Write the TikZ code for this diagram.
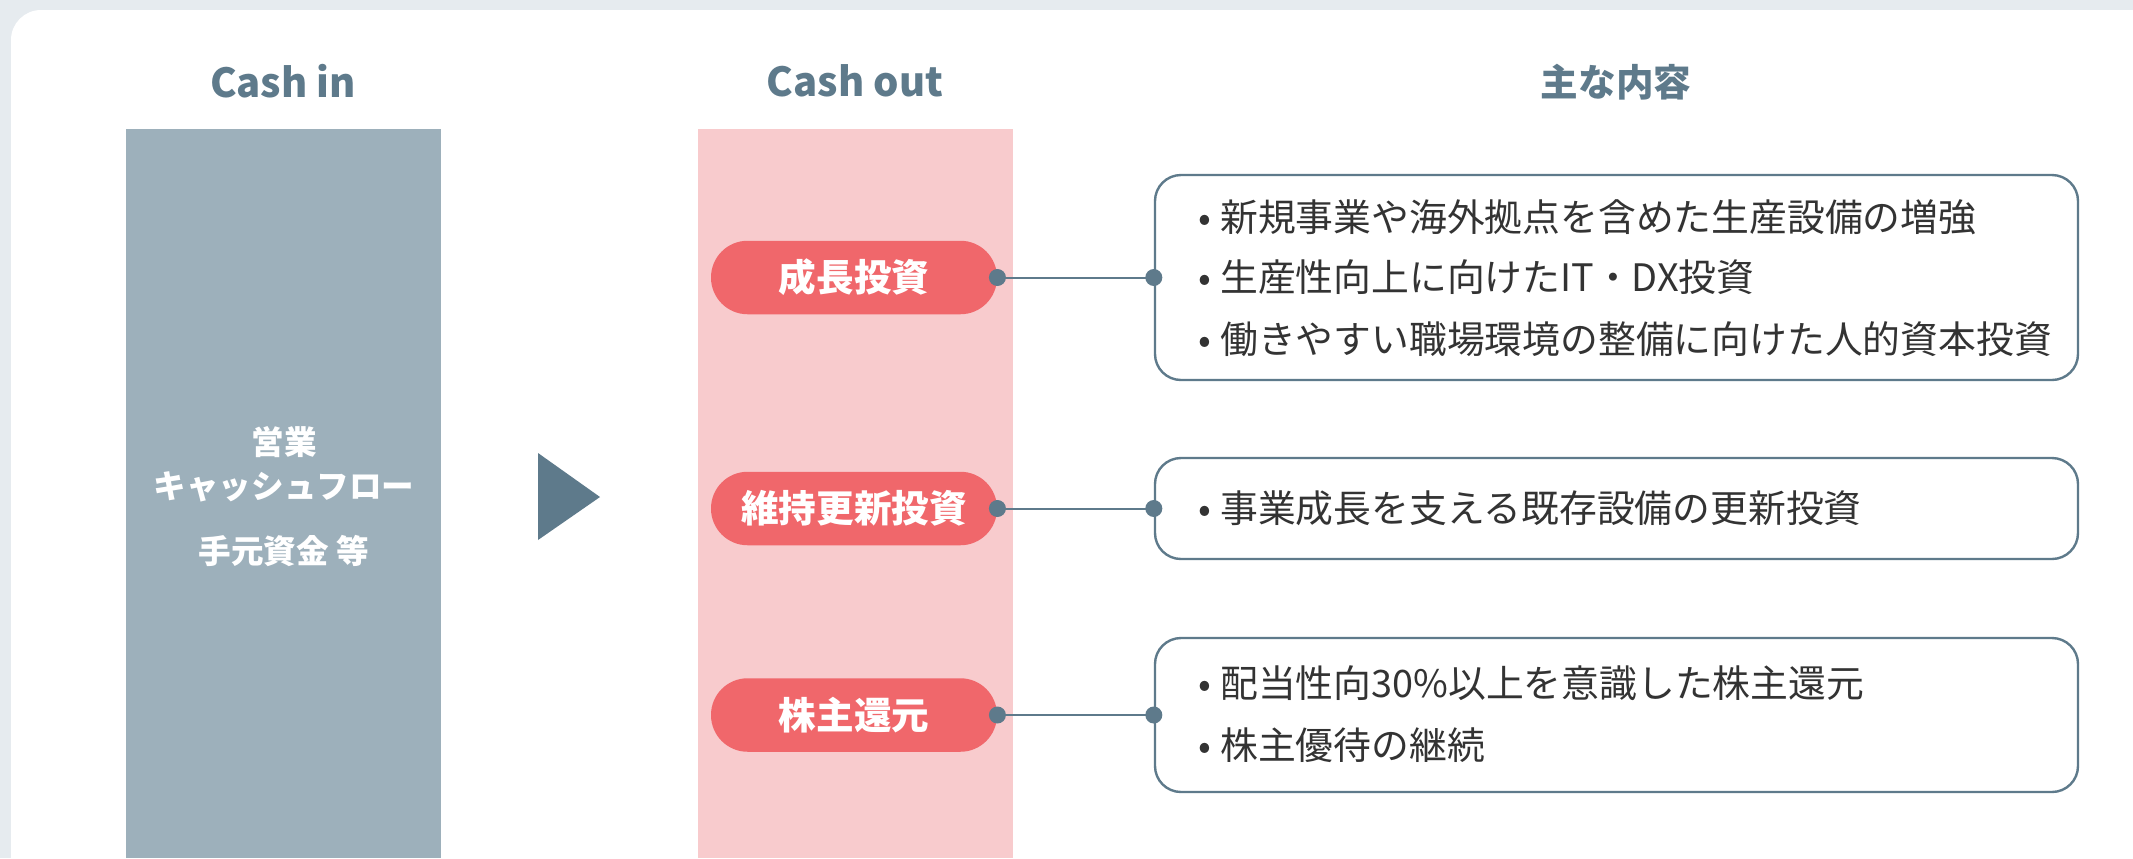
\documentclass[tikz,border=0pt]{standalone}
\usepackage{fontspec}
\setmainfont{Noto Sans CJK JP}
\definecolor{bgc}{HTML}{E6EBEF}
\definecolor{slate}{HTML}{5E7A8B}
\definecolor{greyc}{HTML}{9DB0BB}
\definecolor{pinkc}{HTML}{F8CBCD}
\definecolor{redc}{HTML}{F0676B}
\definecolor{txt}{HTML}{333333}
\begin{document}
\begin{tikzpicture}[x=0.5pt,y=-0.5pt,
  title/.style={font=\fontsize{18.8}{22}\selectfont\bfseries, text=slate, inner sep=0},
  ltitle/.style={font=\fontsize{20}{22}\selectfont\bfseries, text=slate, inner sep=0},
  pill/.style={fill=redc, rounded corners=18.3pt, minimum width=143pt, minimum height=36.75pt, inner sep=0, text=white, font=\fontsize{18.8}{22}\selectfont\bfseries},
  infobox/.style={draw=slate, line width=1.2pt, rounded corners=13pt, minimum width=461.5pt, inner sep=0, fill=white},
  item/.style={anchor=west, inner sep=0, text=txt, font=\fontsize{18.9}{22}\selectfont},
  link/.style={draw=slate, line width=1pt},
  dot/.style={circle, fill=slate, minimum size=8.5pt, inner sep=0},
  cin/.style={text=white, font=\fontsize{16.3}{19}\selectfont\bfseries, inner sep=0}
]
\useasboundingbox (0,0) rectangle (2133,858);
\fill[bgc] (0,0) rectangle (2133,858);
\fill[white, rounded corners=15pt] (11,10) rectangle (2170,890);
\fill[greyc] (126,129) rectangle (441,858);
\fill[pinkc] (698,129) rectangle (1013,858);
\fill[slate] (538,453) -- (600,497) -- (538,540) -- cycle;

\node[ltitle] (tin) at (283,81) {Cash in};
\node[ltitle] (tout) at (855,81) {Cash out};
\node[title] (tcont) at (1616,82) {主な内容};

\node[cin] (g1) at (284,442) {営業};
\node[cin] (g2) at (284,487) {キャッシュフロー};
\node[cin] (g3) at (284,551) {手元資金 等};

\node[pill] (p1) at (854,277.5) {成長投資};
\node[pill] (p2) at (854,508.5) {維持更新投資};
\node[pill] (p3) at (854,715) {株主還元};

\node[infobox, minimum height=102.5pt] (b1) at (1616.5,277.5) {};
\node[infobox, minimum height=50.5pt] (b2) at (1616.5,508.5) {};
\node[infobox, minimum height=77pt] (b3) at (1616.5,715) {};

\node[item] (b1a) at (1198,217.6) {•\hspace{4.5pt}新規事業や海外拠点を含めた生産設備の増強};
\node[item] (b1b) at (1198,277.5) {•\hspace{4.5pt}生産性向上に向けたIT・DX投資};
\node[item] (b1c) at (1198,338.7) {•\hspace{4.5pt}働きやすい職場環境の整備に向けた人的資本投資};
\node[item] (b2a) at (1198,508.5) {•\hspace{4.5pt}事業成長を支える既存設備の更新投資};
\node[item] (b3a) at (1198,683) {•\hspace{4.5pt}配当性向30\%以上を意識した株主還元};
\node[item] (b3b) at (1198,745.5) {•\hspace{4.5pt}株主優待の継続};

\draw[link] (p1.east) -- (b1.west);
\draw[link] (p2.east) -- (b2.west);
\draw[link] (p3.east) -- (b3.west);
\node[dot] at (p1.east) {};
\node[dot] at (b1.west) {};
\node[dot] at (p2.east) {};
\node[dot] at (b2.west) {};
\node[dot] at (p3.east) {};
\node[dot] at (b3.west) {};
\end{tikzpicture}
\end{document}
